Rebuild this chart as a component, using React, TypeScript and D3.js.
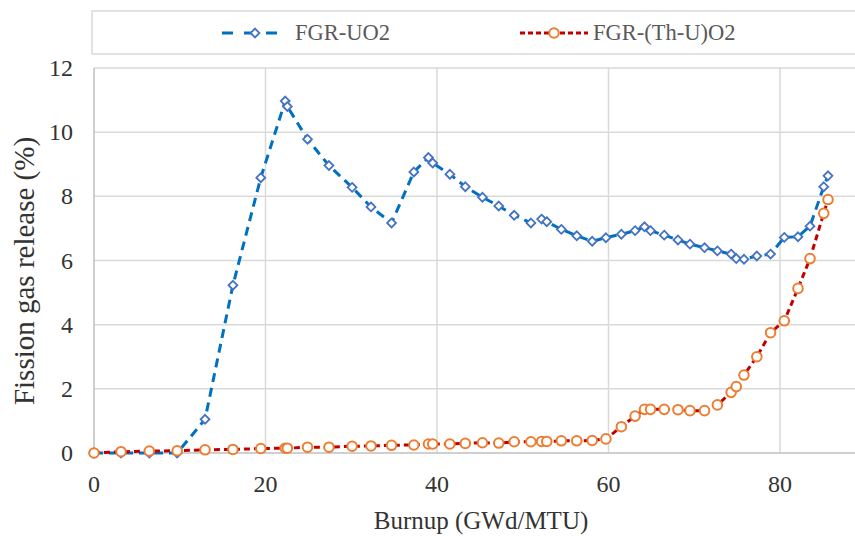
import React from 'react';
import * as d3 from 'd3';

// burnup points shared by both series (GWd/MTU)
const burnup = [
  0, 3.15, 6.45, 9.7, 12.95, 16.2, 19.45, 22.3, 22.55, 24.9, 27.4, 30.1, 32.3,
  34.7, 37.3, 39.0, 39.5, 41.5, 43.3, 45.3, 47.2, 49.0, 50.95, 52.2, 52.8,
  54.5, 56.3, 58.1, 59.7, 61.5, 63.1, 64.2, 64.9, 66.5, 68.1, 69.5, 71.2,
  72.7, 74.3, 74.9, 75.8, 77.3, 78.9, 80.5, 82.1, 83.5, 85.1, 85.6,
];

const fgrUO2 = [
  0, 0, 0, 0, 1.05, 5.23, 8.58, 10.97, 10.8, 9.78, 8.96, 8.28, 7.67,
  7.17, 8.76, 9.21, 9.04, 8.69, 8.3, 7.97, 7.7, 7.41, 7.17, 7.29, 7.21,
  6.97, 6.77, 6.6, 6.71, 6.82, 6.93, 7.05, 6.93, 6.79, 6.64, 6.51, 6.4,
  6.3, 6.2, 6.06, 6.04, 6.14, 6.2, 6.72, 6.74, 7.07, 8.3, 8.64,
];

const fgrThU = [
  0, 0.04, 0.06, 0.07, 0.1, 0.11, 0.14, 0.15, 0.15, 0.18, 0.18, 0.21, 0.22,
  0.24, 0.25, 0.28, 0.28, 0.28, 0.3, 0.32, 0.31, 0.35, 0.35, 0.36, 0.36,
  0.38, 0.38, 0.39, 0.44, 0.82, 1.15, 1.36, 1.36, 1.36, 1.35, 1.32, 1.32,
  1.5, 1.89, 2.07, 2.43, 3.0, 3.75, 4.12, 5.13, 6.06, 7.47, 7.9,
];

const xTicks = [0, 20, 40, 60, 80];
const yTicks = [0, 2, 4, 6, 8, 10, 12];
const seriesNames = ['FGR-UO2', 'FGR-(Th-U)O2'];

const W = 855;
const H = 536;

const left = 94;
const top = 68;
const bottom = 453;

const x = d3.scaleLinear().domain([0, 100]).range([left, left + 100 * 8.575]);
const y = d3.scaleLinear().domain([0, 12]).range([bottom, top]);

const line = d3
  .line<number>()
  .x((_, i) => x(burnup[i]))
  .y((d) => y(d));

const diamond = d3.symbol().type(d3.symbolDiamond2).size(50)()!;

const txt = (size: number): React.CSSProperties => ({ fontFamily: 'Liberation Serif', fontSize: size });

const App: React.FC = () => {
  const ly = 33;
  return (
    <svg width={W} height={H} style={{ position: 'absolute', left: 0, top: 0, background: '#fff' }}>
      {/* gridlines */}
      {yTicks.filter((d) => d > 0).map((d) => (
        <line key={'h' + d} x1={left} x2={x(100)} y1={y(d)} y2={y(d)} stroke="#d9d9d9" strokeWidth={1.5} />
      ))}
      {xTicks.filter((d) => d > 0).map((d) => (
        <line key={'v' + d} x1={x(d)} x2={x(d)} y1={top} y2={bottom} stroke="#d9d9d9" strokeWidth={1.5} />
      ))}
      {/* axes */}
      <line x1={left} x2={left} y1={top} y2={bottom} stroke="#bfbfbf" strokeWidth={1.5} />
      <line x1={left} x2={x(100)} y1={bottom} y2={bottom} stroke="#bfbfbf" strokeWidth={1.5} />

      {xTicks.map((d) => (
        <text key={'xt' + d} x={x(d)} y={492} textAnchor="middle" style={txt(24)} fill="#333">
          {d}
        </text>
      ))}
      {yTicks.map((d) => (
        <text key={'yt' + d} x={73} y={y(d) + 8} textAnchor="end" style={txt(24)} fill="#333">
          {d}
        </text>
      ))}

      <text x={481} y={529} textAnchor="middle" style={txt(25)} fill="#333">
        Burnup (GWd/MTU)
      </text>
      <text transform="translate(34,271) rotate(-90)" textAnchor="middle" style={txt(29)} fill="#333">
        Fission gas release (%)
      </text>

      {/* UO2 */}
      <path d={line(fgrUO2)!} fill="none" stroke="#0070c0" strokeWidth={3} strokeDasharray="9 6" />
      {fgrUO2.map((d, i) => (
        <path key={'u' + i} d={diamond} transform={`translate(${x(burnup[i])},${y(d)})`} fill="#fff" stroke="#4472c4" strokeWidth={1.8} />
      ))}

      {/* (Th-U)O2 */}
      <path d={line(fgrThU)!} fill="none" stroke="#c00000" strokeWidth={3} strokeDasharray="6 4" />
      {fgrThU.map((d, i) => (
        <circle key={'t' + i} cx={x(burnup[i])} cy={y(d)} r={4.8} fill="#fff" stroke="#ed7d31" strokeWidth={2} />
      ))}

      {/* legend */}
      <rect x={92} y={11} width={780} height={43} fill="#fff" stroke="#d9d9d9" strokeWidth={1.5} />
      <line x1={222} x2={288} y1={ly} y2={ly} stroke="#0070c0" strokeWidth={3} strokeDasharray="11 11" />
      <path d={diamond} transform={`translate(255,${ly})`} fill="#fff" stroke="#4472c4" strokeWidth={1.8} />
      <line x1={520} x2={588} y1={ly} y2={ly} stroke="#c00000" strokeWidth={3} strokeDasharray="5 3" />
      <circle cx={554} cy={ly} r={4.8} fill="#fff" stroke="#ed7d31" strokeWidth={2} />
      {seriesNames.map((s, i) => (
        <text key={s} x={i === 0 ? 295 : 593} y={ly + 7} style={txt(22.5)} fill="#595959">
          {s}
        </text>
      ))}
    </svg>
  );
};

export default App;
